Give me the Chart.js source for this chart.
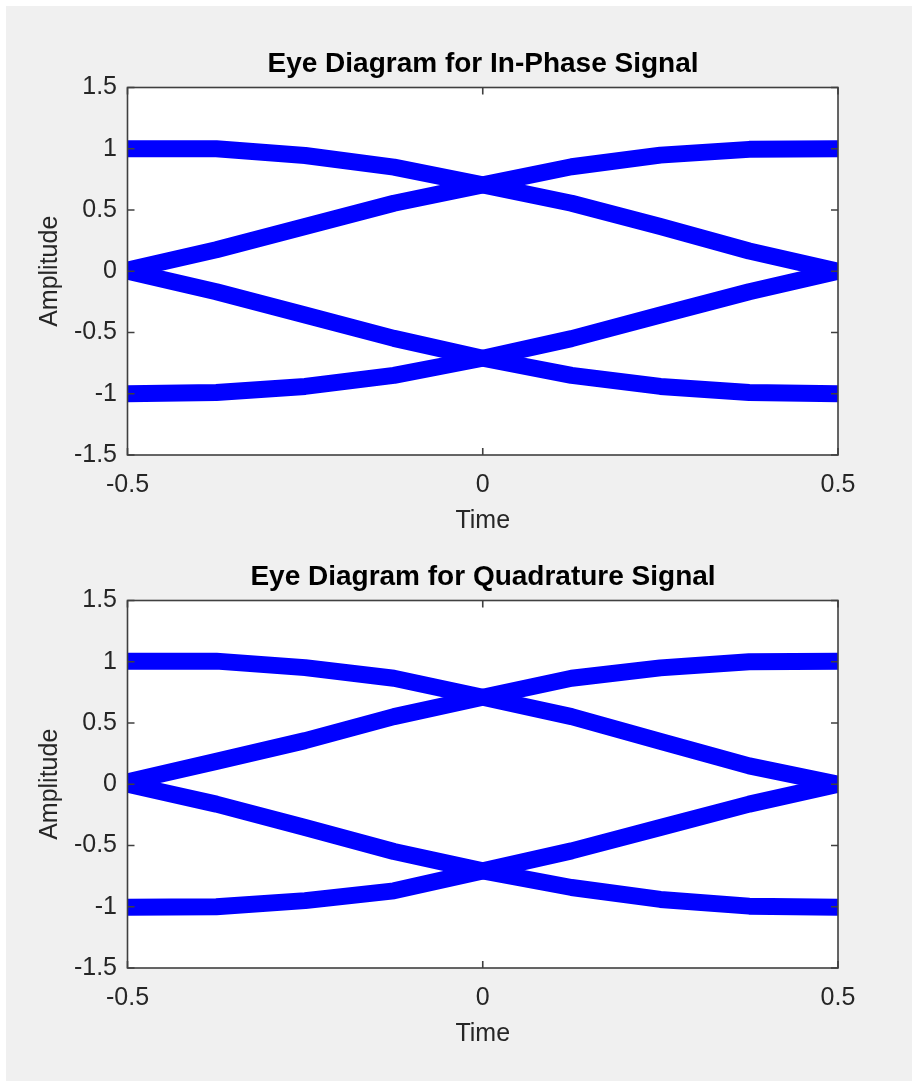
<!DOCTYPE html>
<html>
<head>
<meta charset="utf-8">
<script src="https://cdn.jsdelivr.net/npm/chart.js@4.4.0/dist/chart.umd.min.js"></script>
<style>
  html, body { margin: 0; padding: 0; background: #fff; overflow: hidden; }
  #fig { position: absolute; left: 6px; top: 6px; width: 906px; height: 1075px; background: #f0f0f0; }
  .panel { position: absolute; left: 0; width: 966px; height: 540px; }
</style>
</head>
<body>
<div id="fig"></div>
<div class="panel" style="top:0"><canvas id="eyeI" width="966" height="540"></canvas></div>
<div class="panel" style="top:513px"><canvas id="eyeQ" width="966" height="540"></canvas></div>
<script>
// sample instants inside one symbol
const timeAxis = [-0.5, -0.375, -0.25, -0.125, 0, 0.125, 0.25, 0.375, 0.5];
const xTicks = [-0.5, 0, 0.5];
const yTicks = [-1.5, -1, -0.5, 0, 0.5, 1, 1.5];

// in-phase traces (centre of each band)
const iHighToMid = [1.0, 1.0, 0.945, 0.85, 0.705, 0.555, 0.365, 0.165, 0.0];
const iMidToHigh = [0.01, 0.175, 0.365, 0.555, 0.705, 0.853, 0.948, 0.995, 1.0];
const iMidToLow = [0.0, -0.167, -0.357, -0.548, -0.71, -0.85, -0.94, -0.99, -1.0];
const iLowToMid = [-1.0, -0.99, -0.94, -0.85, -0.71, -0.55, -0.357, -0.167, 0.0];

// quadrature traces
const qHighToMid = [1.005, 1.005, 0.952, 0.865, 0.71, 0.552, 0.35, 0.15, 0.0];
const qMidToHigh = [0.02, 0.187, 0.356, 0.552, 0.71, 0.865, 0.95, 1.0, 1.005];
const qMidToLow = [0.0, -0.162, -0.353, -0.549, -0.707, -0.843, -0.94, -0.995, -1.005];
const qLowToMid = [-1.005, -1.0, -0.95, -0.87, -0.707, -0.544, -0.353, -0.162, 0.0];

Chart.defaults.font.family = '"Liberation Sans", Arial, Helvetica, sans-serif';

const axisColor = '#262626';

function toPoints(vals) {
  return vals.map((v, i) => ({ x: timeAxis[i], y: v }));
}

// white axes face, then box with inward ticks on top of the traces
const boxPlugin = {
  id: 'matlabBox',
  beforeDatasetsDraw(chart) {
    const { ctx, chartArea: a } = chart;
    ctx.save();
    ctx.fillStyle = '#fff';
    ctx.fillRect(a.left, a.top, a.right - a.left, a.bottom - a.top);
    ctx.restore();
  },
  afterDatasetsDraw(chart) {
    const { ctx, chartArea: a, scales } = chart;
    const tl = 7;
    ctx.save();
    ctx.strokeStyle = '#404040';
    ctx.lineWidth = 1.6;
    ctx.strokeRect(a.left, a.top, a.right - a.left, a.bottom - a.top);
    ctx.beginPath();
    scales.y.ticks.forEach(t => {
      const py = scales.y.getPixelForValue(t.value);
      ctx.moveTo(a.left, py); ctx.lineTo(a.left + tl, py);
      ctx.moveTo(a.right, py); ctx.lineTo(a.right - tl, py);
    });
    scales.x.ticks.forEach(t => {
      const px = scales.x.getPixelForValue(t.value);
      ctx.moveTo(px, a.bottom); ctx.lineTo(px, a.bottom - tl);
      ctx.moveTo(px, a.top); ctx.lineTo(px, a.top + tl);
    });
    ctx.stroke();
    ctx.restore();
  }
};

function makeEye(id, titleText, traces) {
  new Chart(document.getElementById(id), {
    type: 'line',
    data: {
      datasets: traces.map(tr => ({
        data: toPoints(tr),
        borderColor: '#0000ff',
        borderWidth: 17,
        borderJoinStyle: 'round',
        pointRadius: 0,
        tension: 0,
        clip: 0
      }))
    },
    options: {
      responsive: false,
      animation: false,
      events: [],
      layout: { padding: 0 },
      plugins: {
        legend: { display: false },
        tooltip: { enabled: false },
        title: {
          display: true,
          text: titleText,
          color: '#000',
          font: { size: 28, weight: 'bold' },
          padding: { top: 47.2, bottom: 6.7 }
        }
      },
      scales: {
        x: {
          type: 'linear',
          min: -0.5,
          max: 0.5,
          afterBuildTicks: s => { s.ticks = xTicks.map(v => ({ value: v })); },
          afterFit: s => { s.height = 85; },
          grid: { display: false, drawTicks: false },
          border: { display: false },
          ticks: { color: axisColor, font: { size: 25 }, padding: 15, maxRotation: 0, callback: v => String(v) },
          title: { display: true, text: 'Time', color: axisColor, font: { size: 25 }, padding: { top: 0, bottom: 4 } }
        },
        y: {
          type: 'linear',
          min: -1.5,
          max: 1.5,
          afterBuildTicks: s => { s.ticks = yTicks.map(v => ({ value: v })); },
          afterFit: s => { s.width = 127.5; },
          grid: { display: false, drawTicks: false },
          border: { display: false },
          ticks: { color: axisColor, font: { size: 25 }, padding: 10.5, callback: v => String(v) },
          title: { display: true, text: 'Amplitude', color: axisColor, font: { size: 25 }, padding: { top: 35, bottom: 0 } }
        },
        // empty right margin so the title centres over the axes
        yRight: {
          type: 'linear',
          position: 'right',
          min: -1.5,
          max: 1.5,
          afterFit: s => { s.width = 128; },
          grid: { display: false, drawTicks: false },
          border: { display: false },
          ticks: { display: false }
        }
      }
    },
    plugins: [boxPlugin]
  });
}

makeEye('eyeI', 'Eye Diagram for In-Phase Signal', [iHighToMid, iMidToHigh, iMidToLow, iLowToMid]);
makeEye('eyeQ', 'Eye Diagram for Quadrature Signal', [qHighToMid, qMidToHigh, qMidToLow, qLowToMid]);
</script>
</body>
</html>
